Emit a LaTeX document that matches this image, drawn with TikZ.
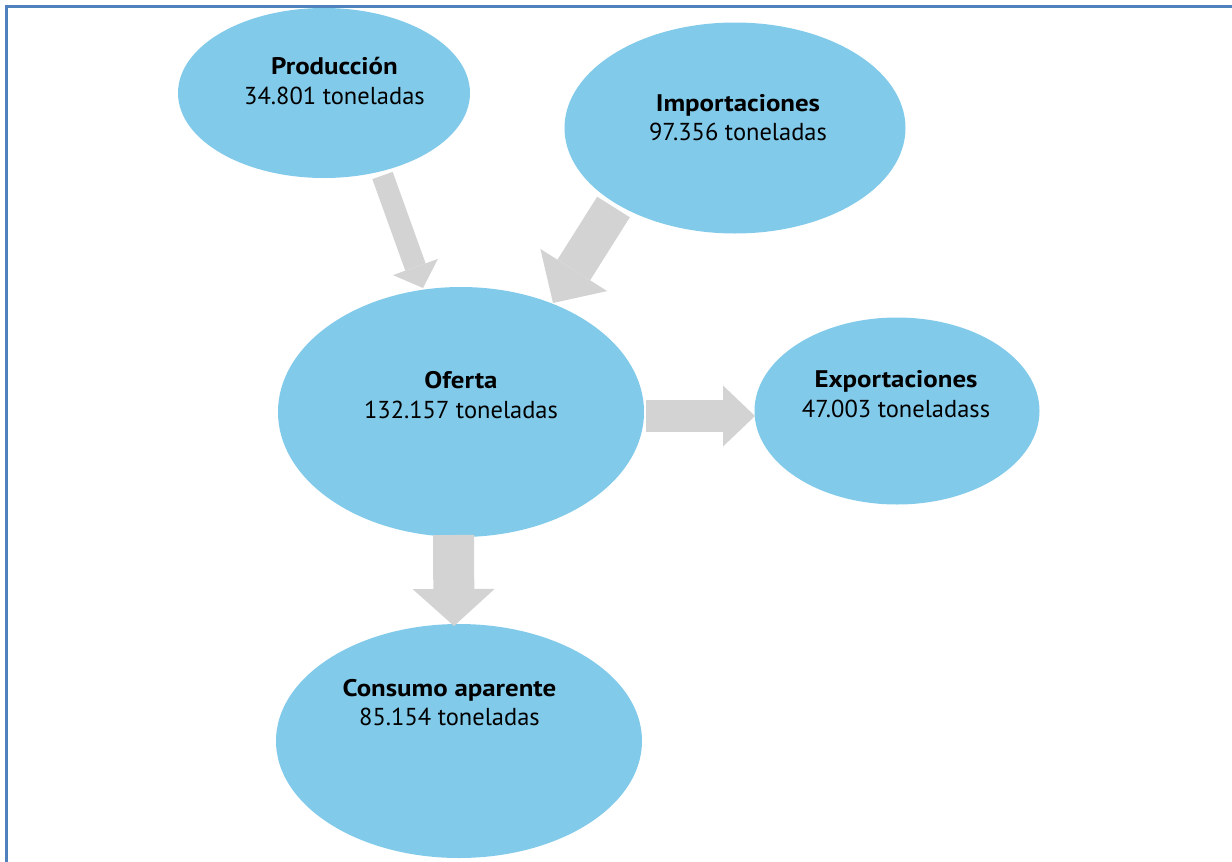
\documentclass[tikz,border=0pt]{standalone}
\usepackage{fontspec}
\setmainfont{PT Sans}
\newfontfamily\widebold[FakeStretch=1.12]{PT Sans Bold}
\usetikzlibrary{arrows.meta,shapes.geometric}
\definecolor{ellblue}{RGB}{130,202,234}
\definecolor{arrgray}{RGB}{211,211,211}
\definecolor{framblue}{RGB}{79,129,189}
\begin{document}
\begin{tikzpicture}[x=1pt,y=-1pt,
  blob/.style={ellipse,fill=ellblue,inner sep=0pt},
  ttl/.style={anchor=base,inner sep=0pt,font=\widebold\fontsize{24}{28}\selectfont},
  val/.style={anchor=base,inner sep=0pt,font=\fontsize{24.5}{28}\selectfont},
  flow/.style={draw=arrgray,line cap=butt}
]
\useasboundingbox (0,0) rectangle (1232,862);
% frame
\coordinate (f0) at (5,6.5);
\coordinate (f1) at (1232,6.5);
\coordinate (f2) at (6.5,5);
\coordinate (f3) at (6.5,862);
\draw[framblue,line width=3pt] (f0) -- (f1);
\draw[framblue,line width=3pt] (f2) -- (f3);
% ellipses
\path (324,93) node[blob,minimum width=292pt,minimum height=170pt] (prod) {};
\path (735,128) node[blob,minimum width=341pt,minimum height=211pt] (imp) {};
\path (461,412) node[blob,minimum width=366pt,minimum height=250pt] (ofe) {};
\path (897,411) node[blob,minimum width=285pt,minimum height=187pt] (exp) {};
\path (459,741) node[blob,minimum width=366pt,minimum height=234pt] (con) {};
% texts
\node[ttl] (prodT) at (334.5,74) {Producción};
\node[val] (prodV) at (334.5,104) {34.801 toneladas};
\node[ttl] (impT) at (738,111) {Importaciones};
\node[val] (impV) at (738,140) {97.356 toneladas};
\node[ttl] (ofeT) at (461,388) {Oferta};
\node[val] (ofeV) at (461,418) {132.157 toneladas};
\node[ttl] (expT) at (896,387) {Exportaciones};
\node[val] (expV) at (896,417) {47.003 toneladass};
\node[ttl] (conT) at (449.5,696) {Consumo aparente};
\node[val] (conV) at (449.5,725) {85.154 toneladas};
% arrows
\coordinate (a1s) at (382.5,175.5);
\coordinate (a1e) at (423,288);
\coordinate (a2s) at (613.5,207);
\coordinate (a2e) at (553,303);
\coordinate (a3s) at (646,416);
\coordinate (a3e) at (755,416);
\coordinate (a4s) at (453.5,535);
\coordinate (a4e) at (454,626);
\draw[flow,line width=21.6pt,-{Triangle[length=22.3pt,width=47.8pt,line width=0pt,fill=arrgray]}] (a1s) -- (a1e);
\draw[flow,line width=38.6pt,-{Triangle[length=39pt,width=79pt,line width=0pt,fill=arrgray]}] (a2s) -- (a2e);
\draw[flow,line width=32pt,-{Triangle[length=32pt,width=61pt,line width=0pt,fill=arrgray]}] (a3s) -- (a3e);
\draw[flow,line width=41pt,-{Triangle[length=37pt,width=82pt,line width=0pt,fill=arrgray]}] (a4s) -- (a4e);
\end{tikzpicture}
\end{document}
